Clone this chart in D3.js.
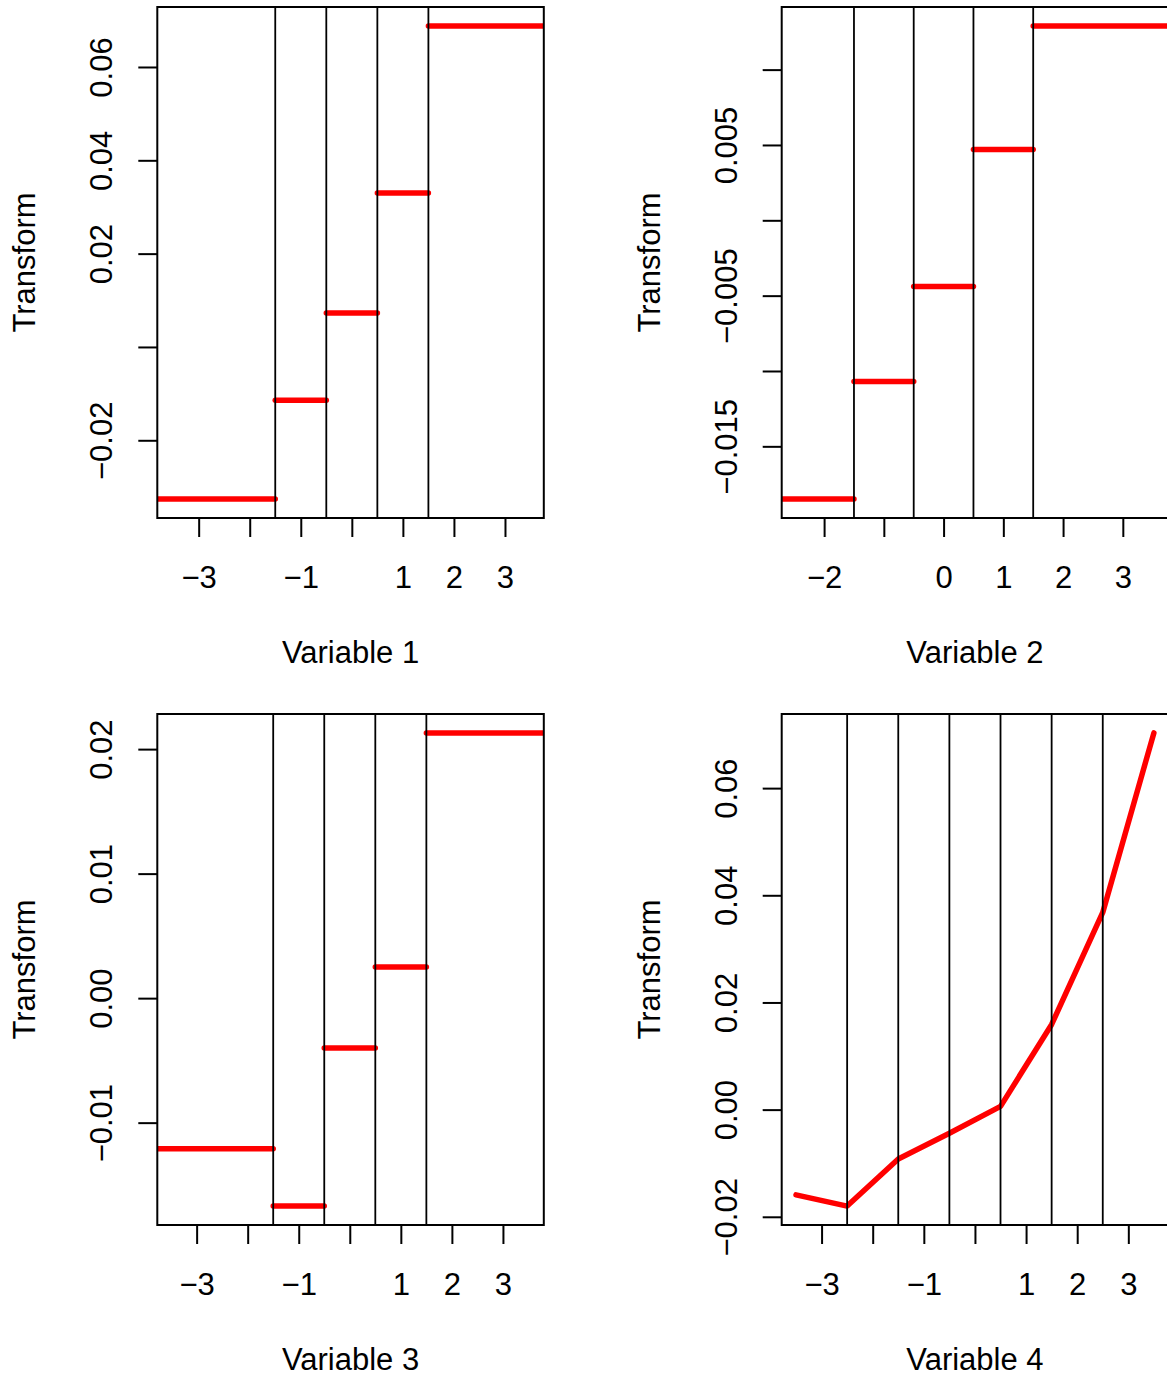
<!DOCTYPE html>
<meta charset="utf-8">
<style>
body { margin: 0; background: #fff; }
svg text {
  font-family: "Liberation Sans", Arial, Helvetica, sans-serif;
  font-size: 31px;
  fill: #000;
}
.box { fill: none; stroke: #000; stroke-width: 2; }
.breaks line { stroke: #000; stroke-width: 1.8; }
.fit { fill: none; stroke: #ff0000; stroke-width: 5.5; stroke-linecap: round; stroke-linejoin: round; }
.axis line { stroke: #000; stroke-width: 2; }
.axis path { display: none; }
</style>

<svg width="1167" height="1378"></svg>

<script src="https://d3js.org/d3.v7.min.js"></script>
<script>

// cut points (vertical lines)
var breaks1 = [-1.5, -0.5, 0.5, 1.5];
var breaks2 = [-1.5, -0.5, 0.5, 1.5];
var breaks3 = [-1.5, -0.5, 0.5, 1.5];
var breaks4 = [-2.5, -1.5, -0.5, 0.5, 1.5, 2.5];

// x data range of each variable
var xRange1 = [-3.53, 3.48];
var xRange2 = [-2.47, 3.52];
var xRange3 = [-3.49, 3.52];
var xRange4 = [-3.5, 3.5];

// step transforms (one level per bin)
var levels1 = [-0.0326, -0.0114, 0.0073, 0.0330, 0.0688];
var levels2 = [-0.0185, -0.0107, -0.0044, 0.0047, 0.0129];
var levels3 = [-0.0121, -0.0167, -0.0040, 0.0025, 0.0213];

// piecewise linear transform of variable 4
var x4 = [-3.5, -2.5, -1.5, -0.5, 0.5, 1.5, 2.5, 3.5];
var fit4 = [-0.0159, -0.0180, -0.0092, -0.0044, 0.0006, 0.0159, 0.0368, 0.0703];

// ticks and which of them get a label
var xTicks1 = [-3, -2, -1, 0, 1, 2, 3], xLabels1 = [-3, -1, 1, 2, 3];
var xTicks2 = [-2, -1, 0, 1, 2, 3],     xLabels2 = [-2, 0, 1, 2, 3];
var xTicks3 = [-3, -2, -1, 0, 1, 2, 3], xLabels3 = [-3, -1, 1, 2, 3];
var xTicks4 = [-3, -2, -1, 0, 1, 2, 3], xLabels4 = [-3, -1, 1, 2, 3];

var yTicks1 = [-0.02, 0, 0.02, 0.04, 0.06], yLabels1 = [-0.02, 0.02, 0.04, 0.06];
var yTicks2 = [-0.015, -0.01, -0.005, 0, 0.005, 0.01], yLabels2 = [-0.015, -0.005, 0.005];
var yTicks3 = [-0.01, 0, 0.01, 0.02], yLabels3 = [-0.01, 0, 0.01, 0.02];
var yTicks4 = [-0.02, 0, 0.02, 0.04, 0.06], yLabels4 = [-0.02, 0, 0.02, 0.04, 0.06];

var titles = ["Variable 1", "Variable 2", "Variable 3", "Variable 4"];

var svg = d3.select("svg");
var W = 386.5, H = 511;

var panels = [
  { left: 157.3, top: 7,   xr: xRange1, breaks: breaks1, levels: levels1, xt: xTicks1, xl: xLabels1, yt: yTicks1, yl: yLabels1, yfmt: ".2f" },
  { left: 781.7, top: 7,   xr: xRange2, breaks: breaks2, levels: levels2, xt: xTicks2, xl: xLabels2, yt: yTicks2, yl: yLabels2, yfmt: ".3f" },
  { left: 157.3, top: 714, xr: xRange3, breaks: breaks3, levels: levels3, xt: xTicks3, xl: xLabels3, yt: yTicks3, yl: yLabels3, yfmt: ".2f" },
  { left: 781.7, top: 714, xr: xRange4, breaks: breaks4, xs: x4, ys: fit4, xt: xTicks4, xl: xLabels4, yt: yTicks4, yl: yLabels4, yfmt: ".2f" }
];

// R style 4% padding
function pad(r) {
  var d = (r[1] - r[0]) * 0.04;
  return [r[0] - d, r[1] + d];
}

function near(list, v) {
  return list.some(function(u) { return Math.abs(u - v) < 1e-9; });
}

panels.forEach(function(p, i) {
  var g = svg.append("g").attr("transform", "translate(" + p.left + "," + p.top + ")");

  var yvals = p.levels ? p.levels : p.ys;
  var x = d3.scaleLinear().domain(pad(p.xr)).range([0, W]);
  var y = d3.scaleLinear().domain(pad(d3.extent(yvals))).range([H, 0]);

  g.append("clipPath").attr("id", "clip" + i)
    .append("rect").attr("width", W).attr("height", H);

  var plot = g.append("g").attr("clip-path", "url(#clip" + i + ")");

  if (p.levels) {
    // bins run past the plot edges at both ends
    var edges = [p.xr[0] - 1].concat(p.breaks, [p.xr[1] + 1]);
    plot.selectAll("line.fit")
      .data(p.levels)
      .enter().append("line")
        .attr("class", "fit")
        .attr("x1", function(d, k) { return x(edges[k]); })
        .attr("x2", function(d, k) { return x(edges[k + 1]); })
        .attr("y1", function(d) { return y(d); })
        .attr("y2", function(d) { return y(d); });
  } else {
    var line = d3.line()
      .x(function(d, k) { return x(p.xs[k]); })
      .y(function(d) { return y(d); });
    plot.append("path").attr("class", "fit").attr("d", line(p.ys));
  }

  plot.append("g").attr("class", "breaks")
    .selectAll("line")
    .data(p.breaks)
    .enter().append("line")
      .attr("x1", function(d) { return x(d); })
      .attr("x2", function(d) { return x(d); })
      .attr("y1", 0)
      .attr("y2", H);

  g.append("rect").attr("class", "box").attr("width", W).attr("height", H);

  // x axis
  var xa = g.append("g").attr("class", "axis")
    .attr("transform", "translate(0," + H + ")")
    .call(d3.axisBottom(x).tickValues(p.xt).tickSize(19)
      .tickFormat(function(d) { return near(p.xl, d) ? d3.format("d")(d) : ""; }));
  xa.selectAll("text").attr("y", 70).attr("dy", null);

  // y axis
  var yf = d3.format(p.yfmt);
  var ya = g.append("g").attr("class", "axis")
    .call(d3.axisLeft(y).tickValues(p.yt).tickSize(19)
      .tickFormat(function(d) { return near(p.yl, d) ? yf(d) : ""; }));
  ya.selectAll("text")
    .attr("x", 0).attr("y", -45).attr("dy", null)
    .attr("text-anchor", "middle")
    .attr("transform", "rotate(-90)");

  // titles
  g.append("text")
    .attr("x", W / 2).attr("y", H + 145)
    .attr("text-anchor", "middle")
    .text(titles[i]);

  g.append("text")
    .attr("transform", "translate(-122," + (H / 2) + ") rotate(-90)")
    .attr("text-anchor", "middle")
    .text("Transform");
});

</script>
